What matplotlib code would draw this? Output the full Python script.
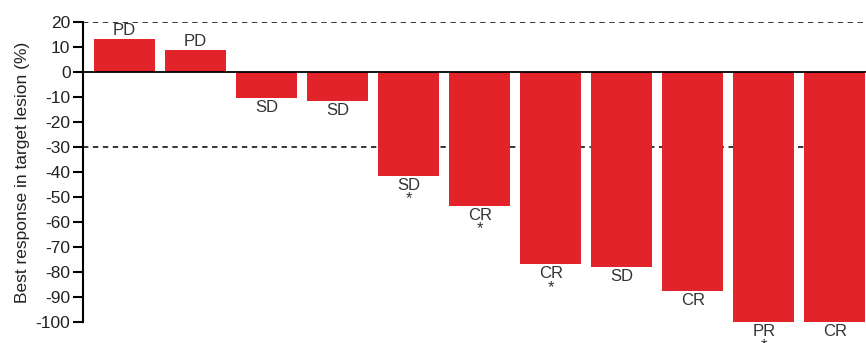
import numpy as np
import matplotlib.pyplot as plt

plt.rcParams['font.family'] = ['Liberation Sans', 'DejaVu Sans']
plt.rcParams['axes.unicode_minus'] = False

# best response per patient (%)
values = [13.2, 8.8, -10.4, -11.5, -41.5, -53.5, -76.8, -78.0, -87.6, -100.0, -100.0]
responses = ['PD', 'PD', 'SD', 'SD', 'SD', 'CR', 'CR', 'SD', 'CR', 'PR', 'CR']
starred = [False, False, False, False, True, True, True, False, False, True, False]

fig = plt.figure(figsize=(8.66, 3.43), dpi=100)
ax = fig.add_axes([83 / 866, 1 - 322 / 343, 1 - 83 / 866, 300 / 343])

x = np.arange(len(values))
ax.bar(x, values, width=0.86, color='#e2242a', zorder=2)

ax.axhline(0, color='black', lw=1.3, zorder=3)
for yl in (20, -30):
    ax.axhline(yl, color='black', lw=1.1, ls=(0, (3.5, 3)), zorder=1)

for xi, v, lab, st in zip(x, values, responses, starred):
    if v > 0:
        ax.text(xi, v + 0.3, lab, ha='center', va='bottom', fontsize=12, color='#333333')
    else:
        ax.text(xi, v - 0.8, lab, ha='center', va='top', fontsize=12, color='#333333', clip_on=False)
        if st:
            ax.text(xi, v - 6.3, '*', ha='center', va='top', fontsize=12, color='#333333', clip_on=False)

ax.set_xlim(-0.585, 10.44)
ax.set_ylim(-100, 20)
ax.set_yticks(np.arange(-100, 21, 10))
ax.set_xticks([])
for s in ('top', 'right', 'bottom'):
    ax.spines[s].set_visible(False)
ax.spines['left'].set_linewidth(1.5)
ax.tick_params(axis='y', direction='out', length=7, width=1.5, labelsize=12.5, pad=2,
               labelcolor='#222222')
ax.set_ylabel('Best response in target lesion (%)', fontsize=12.5, labelpad=4, color='#222222')

fig.savefig('out.png', dpi=100)
